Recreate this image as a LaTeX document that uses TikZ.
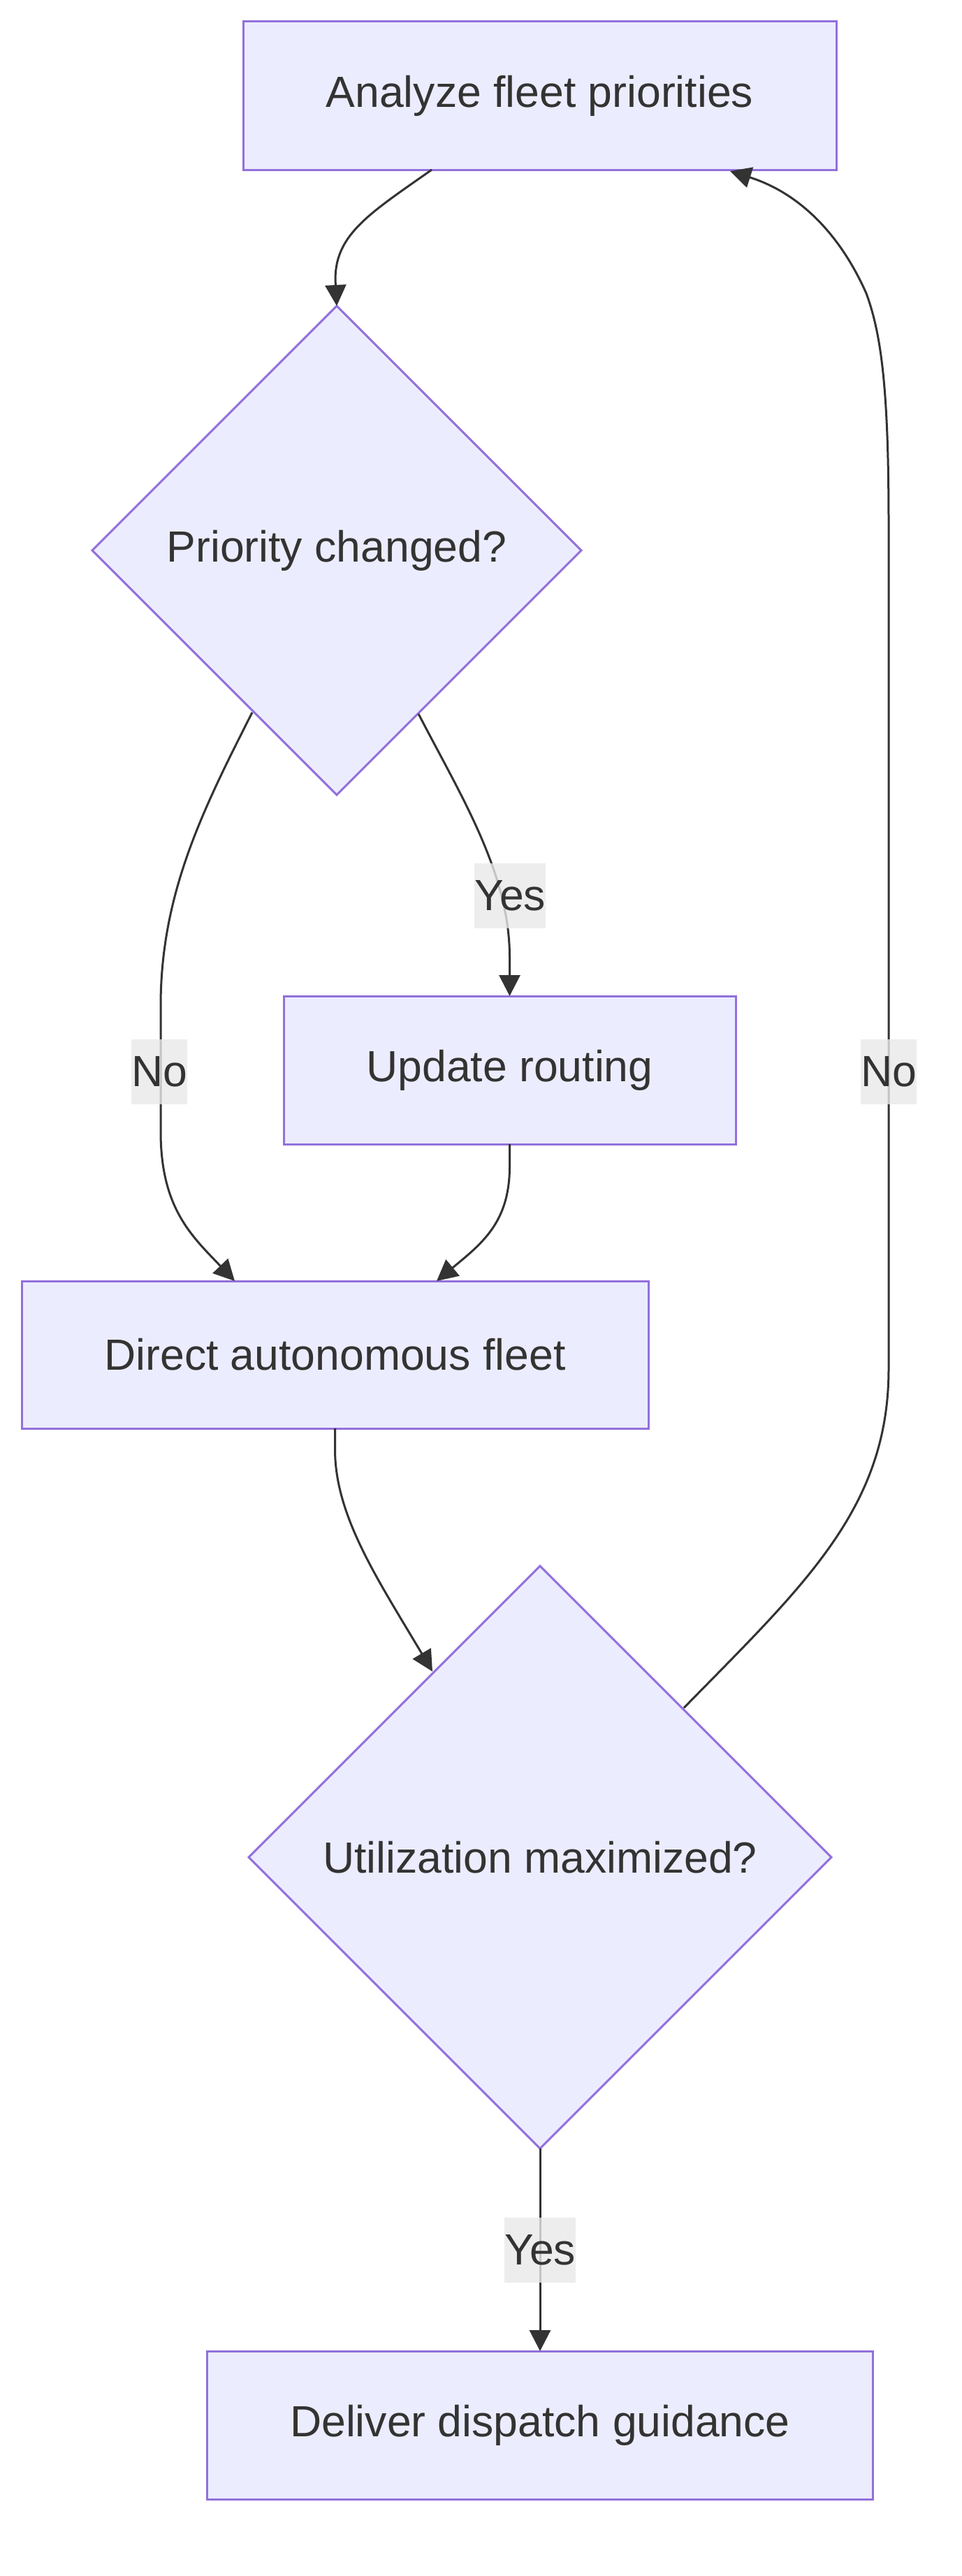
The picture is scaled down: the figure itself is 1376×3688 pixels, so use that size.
\documentclass[tikz,border=0pt]{standalone}
\usepackage{fontspec}
\setmainfont{Liberation Sans}
\usetikzlibrary{shapes.geometric,arrows.meta}
\definecolor{boxfill}{HTML}{ECECFF}
\definecolor{boxline}{HTML}{9370DB}
\definecolor{txt}{HTML}{333333}
\definecolor{edge}{HTML}{333333}
\definecolor{lblfill}{HTML}{E8E8E8}
\begin{document}
\begin{tikzpicture}[x=0.5pt,y=-0.5pt,
  base/.style={draw=boxline,fill=boxfill,line width=1.5pt,inner sep=0pt,outer sep=0pt,text=txt,font=\fontsize{31.25}{37}\selectfont},
  box/.style={base,rectangle,minimum height=106pt},
  decision/.style={base,diamond,aspect=1},
  conn/.style={draw=edge,line width=1.5pt,-{Triangle[length=15pt,width=15pt]}},
  lbl/.style={fill=lblfill,fill opacity=0.8,text opacity=1,text=txt,inner sep=0pt,minimum height=46.5pt,font=\fontsize{31.25}{37}\selectfont}]
\useasboundingbox (0,0) rectangle (1376,3688);
\node[box,minimum width=424.5pt] (A) at (772.5,137) {Analyze fleet priorities};
\node[decision,minimum width=350pt,minimum height=350pt] (B) at (482,788) {Priority changed?};
\node[box,minimum width=323.5pt] (U) at (729.5,1532) {Update routing};
\node[box,minimum width=448.5pt,minimum height=105.5pt] (D) at (479.5,1939.5) {Direct autonomous fleet};
\node[decision,minimum width=417pt,minimum height=417pt] (M) at (773,2659) {Utilization maximized?};
\node[box,minimum width=476.5pt] (G) at (773,3472) {Deliver dispatch guidance};

\coordinate (a1) at (618,243);
\coordinate (a2) at (1045,245);
\coordinate (b1) at (361,1020);
\coordinate (b2) at (599,1022);
\coordinate (d1) at (336,1834);
\coordinate (d2) at (625,1834);
\coordinate (m1) at (619,2393);
\coordinate (m2) at (979,2445);

\draw[conn] (a1) .. controls (530,305) and (480,335) .. (480,400) -- (B.north);
\draw[conn] (b2) .. controls (660,1140) and (729.5,1250) .. (729.5,1370) -- (U.north);
\draw[conn] (b1) .. controls (290,1160) and (230,1280) .. (230,1440) -- (230,1620) .. controls (230,1730) and (275,1770) .. (d1);
\draw[conn] (U.south) -- (729.5,1670) .. controls (729.5,1750) and (690,1780) .. (d2);
\draw[conn] (D.south) -- (479.5,2075) .. controls (479.5,2170) and (540,2260) .. (m1);
\draw[conn] (m2) .. controls (1150,2270) and (1272,2160) .. (1272,1960) -- (1272,750) .. controls (1272,560) and (1262,480) .. (1240,420) .. controls (1200,330) and (1140,275) .. (a2);
\draw[conn] (M.south) -- (G.north);

\node[lbl] (l1) at (730,1282) {Yes};
\node[lbl] (l2) at (228,1534) {No};
\node[lbl] (l3) at (1272,1534) {No};
\node[lbl] (l4) at (773,3221) {Yes};
\end{tikzpicture}
\end{document}
